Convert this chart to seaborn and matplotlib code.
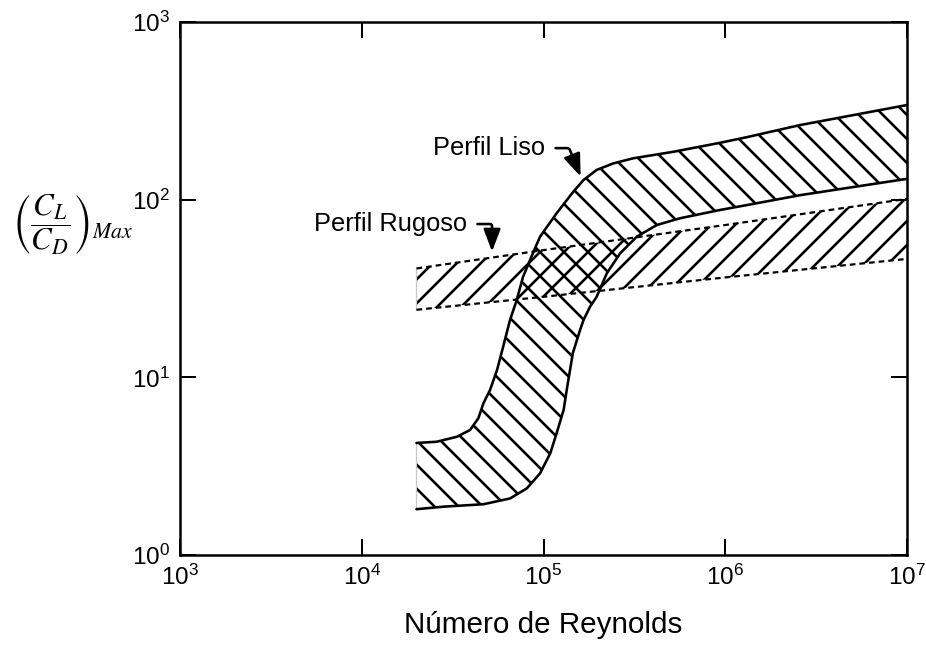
import numpy as np
import matplotlib
matplotlib.use("Agg")
import matplotlib.pyplot as plt
import seaborn as sns

# ---- data ----
re_liso_sup = [2e4, 2.59e4, 3.34e4, 3.94e4, 4.38e4, 4.67e4, 5.08e4, 5.55e4, 5.99e4, 6.54e4,
               7.12e4, 7.71e4, 8.75e4, 9.57e4, 1.18e5, 1.46e5, 1.66e5, 1.96e5, 2.42e5,
               3.12e5, 5.18e5, 9.36e5, 1.32e6, 2.58e6, 1e7]
liso_sup = [4.27, 4.34, 4.63, 5.05, 5.88, 7.14, 8.49, 11.0, 14.8, 21.0,
            27.2, 36.7, 50.1, 61.9, 83.8, 111, 129, 147, 160,
            171, 186, 209, 225, 263, 341]

re_liso_inf = [2e4, 2.81e4, 4.67e4, 6.54e4, 8.09e4, 9.57e4, 1.09e5, 1.18e5, 1.29e5, 1.35e5,
               1.45e5, 1.59e5, 1.66e5, 1.80e5, 1.96e5, 2.23e5, 2.64e5, 3.26e5, 4.20e5,
               5.64e5, 9.36e5, 1.32e6, 2.58e6, 1e7]
liso_inf = [1.81, 1.87, 1.93, 2.08, 2.37, 2.88, 3.74, 4.84, 6.55, 8.82,
            13.7, 18.5, 21.0, 24.9, 28.4, 38.5, 49.9, 61.9, 72.0,
            78.6, 87.5, 93.3, 106, 131]

re_rug = [2e4, 1e5, 1e6, 1e7]
rug_sup = [41, 52, 72, 101]
rug_inf = [24, 28.4, 36.5, 46.4]

xlim = (1e3, 1e7)
ylim = (1e0, 1e3)

label_liso = "Perfil Liso"
label_rug = "Perfil Rugoso"
xlabel = "Número de Reynolds"
ylabel = r"$\left(\dfrac{\mathit{C_L}}{\mathit{C_D}}\right)_{\mathit{Max}}$"

# ---- style ----
sns.set_style("ticks")
plt.rcParams["font.family"] = ["Liberation Sans", "DejaVu Sans"]
plt.rcParams["mathtext.fontset"] = "stix"
plt.rcParams["mathtext.default"] = "regular"
plt.rcParams["hatch.linewidth"] = 1.3
plt.rcParams["hatch.color"] = "black"
for k in ["text.color", "axes.labelcolor", "xtick.color", "ytick.color", "axes.edgecolor"]:
    plt.rcParams[k] = "black"

DPI = 144
fig = plt.figure(figsize=(926 / DPI, 661 / DPI), dpi=DPI)
ax = fig.add_axes([0.1944, 0.1604, 0.9795 - 0.1944, 0.9667 - 0.1604])
ax.set_xscale("log")
ax.set_yscale("log")
ax.set_xlim(*xlim)
ax.set_ylim(*ylim)

# bands (hatched)
ax.fill(np.concatenate([re_rug, re_rug[::-1]]),
        np.concatenate([rug_sup, rug_inf[::-1]]),
        facecolor="none", edgecolor="black", hatch="//", linewidth=0, zorder=1)
ax.fill(np.concatenate([re_liso_sup, re_liso_inf[::-1]]),
        np.concatenate([liso_sup, liso_inf[::-1]]),
        facecolor="none", edgecolor="black", hatch="\\\\", linewidth=0, zorder=1)

# thin grey left edges
ax.plot([re_rug[0], re_rug[0]], [rug_inf[0], rug_sup[0]], color="#c8c8c8", lw=0.6, zorder=2)
ax.plot([re_liso_sup[0], re_liso_inf[0]], [liso_sup[0], liso_inf[0]], color="#c8c8c8", lw=0.6, zorder=2)

# boundary lines
dash = (0, (2.6, 1.8))
sns.lineplot(x=re_rug, y=rug_sup, ax=ax, color="black", lw=1.1, linestyle=dash,
             estimator=None, sort=False, zorder=3)
sns.lineplot(x=re_rug, y=rug_inf, ax=ax, color="black", lw=1.1, linestyle=dash,
             estimator=None, sort=False, zorder=3)
sns.lineplot(x=re_liso_sup, y=liso_sup, ax=ax, color="black", lw=1.3,
             estimator=None, sort=False, zorder=4)
sns.lineplot(x=re_liso_inf, y=liso_inf, ax=ax, color="black", lw=1.3,
             estimator=None, sort=False, zorder=4)

# annotations
arrow_kw = dict(arrowstyle="-|>,head_length=0.95,head_width=0.36", mutation_scale=10,
                color="black", lw=1.3, shrinkA=3, shrinkB=0, relpos=(1, 0.5))
ax.annotate(label_liso, xy=(1.6e5, 135), xytext=(1.02e5, 195),
            ha="right", va="center", fontsize=12.7,
            arrowprops=dict(connectionstyle="angle,angleA=0,angleB=-68,rad=2", **arrow_kw))
ax.annotate(label_rug, xy=(5.21e4, 51), xytext=(3.79e4, 72.9),
            ha="right", va="center", fontsize=12.7,
            arrowprops=dict(connectionstyle="angle,angleA=0,angleB=90,rad=2", **arrow_kw))

# axes styling
for s in ax.spines.values():
    s.set_linewidth(1.25)
    s.set_color("black")
ax.xaxis.set_minor_locator(matplotlib.ticker.NullLocator())
ax.yaxis.set_minor_locator(matplotlib.ticker.NullLocator())
ax.tick_params(which="major", direction="in", top=True, right=True, length=8, width=1.0,
               labelsize=12.2, colors="black")
ax.tick_params(axis="x", pad=5)
ax.tick_params(axis="y", pad=5)

ax.set_xlabel(xlabel, fontsize=14.8, va="center")
ax.xaxis.set_label_coords(0.5, -0.131)
ax.set_ylabel(ylabel, fontsize=15.5, rotation=0, ha="center", va="center")
ax.yaxis.set_label_coords(-0.148, 0.62)

fig.savefig("out.png", dpi=DPI)
